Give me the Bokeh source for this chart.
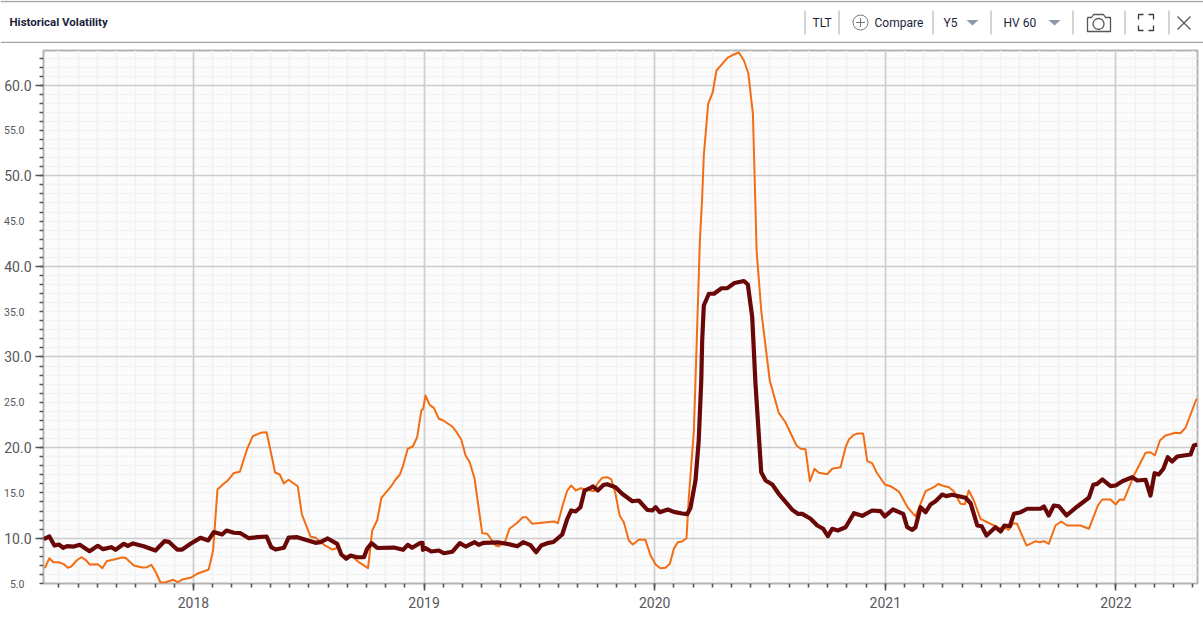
from bokeh.embed import file_html
from bokeh.resources import INLINE
from bokeh.plotting import figure
from bokeh.layouts import column
from bokeh.models import FixedTicker, Grid, LinearAxis
from bokeh.core.properties import value

TITLE = "Historical Volatility"
YEAR_TICKS = [2018, 2019, 2020, 2021, 2022]
Y_MAJOR = [10, 20, 30, 40, 50, 60]
Y_MID = [5, 15, 25, 35, 45, 55]

orange_x = [2017.355,2017.375,2017.392,2017.415,2017.435,2017.455,2017.470,2017.493,2017.513,2017.532,2017.550,2017.585,2017.605,2017.623,2017.691,2017.705,2017.741,2017.778,2017.799,2017.817,2017.835,2017.857,2017.879,2017.912,2017.932,2017.955,2017.987,
 2018.016,2018.066,2018.085,2018.104,2018.131,2018.149,2018.175,2018.201,2018.233,2018.257,2018.291,2018.317,2018.354,2018.374,2018.392,2018.412,2018.452,2018.470,2018.507,2018.529,2018.565,2018.602,2018.626,2018.645,2018.688,2018.717,2018.757,2018.775,2018.797,2018.815,2018.854,2018.876,2018.895,2018.909,2018.929,2018.951,2018.970,2018.988,2018.996,
 2019.006,2019.024,2019.042,2019.064,2019.083,2019.122,2019.141,2019.161,2019.180,2019.198,2019.219,2019.252,2019.274,2019.310,2019.324,2019.350,2019.370,2019.404,2019.428,2019.443,2019.469,2019.563,2019.580,2019.603,2019.621,2019.638,2019.658,2019.678,2019.736,2019.751,2019.772,2019.794,2019.812,2019.830,2019.848,2019.866,2019.888,2019.905,2019.931,2019.960,2019.982,
 2020.004,2020.025,2020.047,2020.066,2020.083,2020.100,2020.119,2020.138,2020.148,2020.170,2020.177,2020.196,2020.206,2020.213,2020.232,2020.252,2020.268,2020.293,2020.315,2020.338,2020.365,2020.387,2020.406,2020.426,2020.442,2020.462,2020.499,2020.538,2020.567,2020.615,2020.633,2020.654,2020.673,2020.693,2020.712,2020.748,2020.770,2020.806,2020.828,2020.842,2020.864,2020.881,2020.904,2020.922,2020.943,2020.962,2020.998,
 2021.023,2021.059,2021.098,2021.131,2021.175,2021.211,2021.230,2021.247,2021.276,2021.297,2021.326,2021.345,2021.362,2021.384,2021.413,2021.471,2021.500,2021.514,2021.536,2021.555,2021.572,2021.587,2021.613,2021.652,2021.670,2021.688,2021.709,2021.738,2021.763,2021.789,2021.847,2021.883,2021.922,2021.941,2021.977,2021.999,
 2022.017,2022.035,2022.078,2022.129,2022.150,2022.169,2022.191,2022.215,2022.259,2022.280,2022.302,2022.350]
orange_y = [6.69,7.79,7.35,7.35,7.17,6.73,6.88,7.54,7.90,7.62,7.10,7.13,6.69,7.46,7.87,7.84,6.99,6.77,6.80,7.06,6.32,5.11,5.14,5.41,5.14,5.47,5.63,
 6.07,6.55,8.64,15.38,16.00,16.37,17.20,17.33,19.87,21.26,21.63,21.70,17.25,17.03,16.04,16.45,15.74,12.62,10.19,10.04,9.30,8.75,8.94,8.09,8.01,7.35,6.69,10.85,12.01,14.46,15.63,16.45,17.03,18.02,19.87,20.12,21.15,24.09,24.28,
 25.75,24.72,24.39,23.18,22.99,22.33,21.70,20.89,19.13,18.39,16.56,10.55,10.49,9.19,9.12,9.53,11.04,11.70,12.32,12.32,11.59,11.84,11.66,13.80,15.26,15.82,15.26,15.52,15.19,16.00,16.67,16.73,16.48,14.90,12.51,11.77,9.75,9.30,9.82,9.82,8.09,
 7.10,6.69,6.73,7.17,8.83,9.56,9.64,10.00,14.49,21.89,27.41,42.86,47.64,52.24,57.95,59.23,61.62,62.36,63.02,63.33,63.61,62.73,61.32,56.84,41.75,35.13,27.41,23.84,22.80,20.23,19.87,19.82,16.29,17.66,17.22,17.06,17.66,17.84,20.04,20.89,21.41,21.56,21.56,18.50,18.28,17.28,15.93,
 15.74,15.15,13.36,12.40,15.19,15.63,16.00,15.82,15.63,15.19,13.80,13.75,15.26,14.16,12.14,11.40,11.04,11.21,10.93,11.66,11.59,10.66,9.19,9.67,9.56,9.67,9.38,11.40,11.84,11.40,11.40,11.04,13.61,14.27,14.27,13.72,
 14.27,14.24,16.92,19.43,19.49,19.13,20.78,21.34,21.63,21.59,22.19,25.39]

dark_x = [2017.351,2017.375,2017.397,2017.416,2017.435,2017.452,2017.481,2017.507,2017.549,2017.585,2017.608,2017.643,2017.662,2017.698,2017.715,2017.738,2017.784,2017.835,2017.874,2017.893,2017.929,2017.951,2017.987,
 2018.030,2018.064,2018.088,2018.124,2018.143,2018.175,2018.204,2018.240,2018.276,2018.317,2018.337,2018.356,2018.392,2018.413,2018.450,2018.493,2018.529,2018.551,2018.582,2018.623,2018.641,2018.662,2018.681,2018.710,2018.739,2018.753,2018.772,2018.797,2018.869,2018.909,2018.929,2018.948,2018.981,2018.993,2018.995,
 2019.006,2019.031,2019.064,2019.086,2019.122,2019.155,2019.180,2019.219,2019.237,2019.259,2019.324,2019.360,2019.404,2019.430,2019.461,2019.486,2019.508,2019.534,2019.561,2019.599,2019.621,2019.638,2019.657,2019.678,2019.696,2019.722,2019.733,2019.753,2019.779,2019.794,2019.830,2019.859,2019.903,2019.931,2019.968,2019.989,
 2020.004,2020.022,2020.057,2020.083,2020.119,2020.141,2020.155,2020.177,2020.191,2020.202,2020.206,2020.213,2020.235,2020.257,2020.290,2020.315,2020.346,2020.387,2020.404,2020.423,2020.437,2020.462,2020.481,2020.510,2020.538,2020.597,2020.621,2020.640,2020.676,2020.705,2020.731,2020.751,2020.770,2020.794,2020.828,2020.864,2020.900,2020.943,2020.979,2020.998,
 2021.033,2021.078,2021.095,2021.117,2021.131,2021.153,2021.175,2021.196,2021.218,2021.247,2021.264,2021.290,2021.348,2021.370,2021.399,2021.418,2021.439,2021.478,2021.500,2021.517,2021.540,2021.558,2021.587,2021.616,2021.673,2021.688,2021.709,2021.731,2021.753,2021.786,2021.833,2021.883,2021.902,2021.919,2021.941,2021.977,2021.999,
 2022.028,2022.071,2022.093,2022.129,2022.150,2022.168,2022.186,2022.206,2022.225,2022.244,2022.266,2022.324,2022.338,2022.353]
dark_y = [9.89,10.19,9.19,9.30,8.94,9.12,9.08,9.27,8.57,9.16,8.79,9.01,8.72,9.38,9.16,9.42,9.12,8.64,9.67,9.60,8.75,8.75,9.38,
 10.04,9.75,10.68,10.41,10.85,10.60,10.55,10.00,10.11,10.19,9.01,8.75,8.94,10.08,10.11,9.78,9.49,9.56,9.97,9.38,8.20,7.73,8.09,7.90,7.90,8.83,9.45,8.92,8.97,8.72,9.27,8.94,9.45,9.49,8.72,
 8.90,8.53,8.64,8.34,8.50,9.45,9.08,9.56,9.27,9.49,9.53,9.38,9.12,9.56,9.23,8.45,9.19,9.45,9.58,10.41,12.14,13.06,12.95,13.42,15.26,15.56,15.71,15.26,15.89,15.96,15.63,14.90,14.08,14.16,13.13,13.06,
 13.42,12.87,13.17,12.91,12.73,12.65,13.33,16.37,20.78,27.41,31.82,35.68,36.98,36.98,37.59,37.60,38.17,38.39,38.00,34.39,27.08,17.28,16.37,15.93,14.90,13.13,12.69,12.69,12.14,11.40,11.04,10.22,11.04,10.85,11.21,12.76,12.47,13.06,12.98,12.40,
 13.17,12.69,11.21,10.93,11.21,13.42,12.87,13.72,14.08,14.82,14.64,14.79,14.46,13.86,11.40,11.32,10.30,11.21,10.74,11.40,11.32,12.69,12.87,13.25,13.25,13.50,12.51,13.61,13.53,12.51,13.50,14.46,15.89,16.00,16.48,15.74,15.82,
 16.29,16.73,16.37,16.45,14.71,17.17,17.03,17.66,18.94,18.47,19.02,19.24,20.23,20.34]

FONT = value("Roboto")
INK = "#1b1f3b"
SEP = "#a9a9ad"
TRI = "#8d98ae"
ICON = "#55555c"

# Header bar: drawn on a 1:1 pixel canvas
h = figure(width=1203, height=43, x_range=(0, 1203), y_range=(43, 0), output_backend="svg",
           toolbar_location=None, min_border=0, outline_line_color=None, background_fill_color="white",
           frame_align=False)
h.axis.visible = False
h.grid.visible = False
h.segment([0, 0], [1, 42], [1203, 1203], [1, 42], line_color="#a6a6aa", line_width=1.5)
h.segment([804.5, 838.5, 932.5, 990.5, 1072.5, 1124.5, 1168.5], [10]*7,
          [804.5, 838.5, 932.5, 990.5, 1072.5, 1124.5, 1168.5], [34]*7, line_color=SEP, line_width=1)
h.text([9], [21.5], [TITLE], text_font=FONT, text_font_size="11.5px", text_font_style="bold", text_color=INK,
       text_align="left", text_baseline="middle")
h.text([812, 874, 943, 1003], [22, 22, 22, 22], ["TLT", "Compare", "Y5", "HV 60"], text_font=FONT,
       text_font_size="12px", text_color=INK, text_align="left", text_baseline="middle")
h.scatter([860], [22], size=15, marker="circle", fill_color=None, line_color="#77777c", line_width=1)
h.segment([855.5, 860], [22, 17.5], [864.5, 860], [22, 26.5], line_color="#77777c", line_width=1)
h.patches([[966, 978, 972], [1048, 1060, 1054]], [[19.5, 19.5, 25], [19.5, 19.5, 25]], fill_color=TRI, line_color=None)
h.line([1087, 1091, 1093, 1103, 1105, 1110, 1110, 1087, 1087], [17, 17, 14, 14, 17, 17, 31, 31, 17],
       line_color=ICON, line_width=1.3, line_join="round")
h.scatter([1098], [23.5], size=11, marker="circle", fill_color=None, line_color=ICON, line_width=1.3)
h.multi_line([[1138, 1138, 1143], [1148, 1153, 1153], [1138, 1138, 1143], [1148, 1153, 1153]],
             [[19, 14, 14], [14, 14, 19], [25, 30, 30], [30, 30, 25]], line_color="#3a3a40", line_width=1.3)
h.segment([1177, 1177], [16, 29], [1190, 1190], [29, 16], line_color="#55555c", line_width=1.2)

# Chart
p = figure(width=1203, height=571, x_range=(2017.3495, 2022.354), y_range=(5.0, 63.83), output_backend="svg",
           toolbar_location=None, min_border_left=43, min_border_right=6, min_border_top=7, min_border_bottom=31,
           background_fill_color="#fcfcfc", border_fill_color="white",
           outline_line_color="#b3b3b3", outline_line_width=2, frame_align=False)

minor_x = [2017 + m / 12 for m in range(5, 65)]
xt = FixedTicker(ticks=YEAR_TICKS, minor_ticks=minor_x)
yt = FixedTicker(ticks=Y_MAJOR, minor_ticks=list(range(5, 64)))
p.xaxis.ticker = xt
p.yaxis.ticker = yt
p.xaxis.major_label_overrides = {y: str(y) for y in YEAR_TICKS}
p.yaxis.major_label_overrides = {v: f"{v:.1f}" for v in Y_MAJOR}

# Minor grids go underneath both major grids so the major lines stay unbroken
grid_layers = []
for dim, tk in ((0, xt), (1, yt)):
    grid_layers.append(Grid(dimension=dim, ticker=tk, grid_line_color=None,
                            minor_grid_line_color="#f2f2f2", minor_grid_line_width=1.6))
for dim, tk in ((0, xt), (1, yt)):
    grid_layers.append(Grid(dimension=dim, ticker=tk, grid_line_color="#cdcdcd", grid_line_width=1.6))
p.center = grid_layers

for ax in (p.xaxis[0], p.yaxis[0]):
    ax.axis_line_color = None
    ax.major_tick_line_color = "#55555a"
    ax.minor_tick_line_color = "#55555a"
    ax.major_tick_line_width = 1.6
    ax.minor_tick_line_width = 1.6
    ax.major_tick_in = 0
    ax.minor_tick_in = 0
    ax.major_label_text_font = "Roboto"
    ax.major_label_text_color = "#57575c"
p.xaxis.major_tick_out = 7
p.xaxis.minor_tick_out = 4
p.yaxis.major_tick_out = 8
p.yaxis.minor_tick_out = 4
p.xaxis.major_label_text_font_size = "14px"
p.yaxis.major_label_text_font_size = "14px"
p.xaxis.major_label_standoff = 6
p.yaxis.major_label_standoff = 4

# Second axis carries the smaller mid-decade labels; a negative standoff lays them in the big labels' column
mid_axis = LinearAxis(ticker=FixedTicker(ticks=Y_MID, minor_ticks=[]), axis_line_color=None,
                      major_tick_line_color=None, minor_tick_line_color=None,
                      major_tick_in=0, major_tick_out=0, minor_tick_in=0, minor_tick_out=0,
                      major_label_standoff=-23, major_label_text_font="Roboto",
                      major_label_text_font_size="10.5px", major_label_text_color="#57575c",
                      major_label_overrides={v: f"{v:.1f}" for v in Y_MID})
p.add_layout(mid_axis, "left")

p.line(orange_x, orange_y, line_color="#f26d14", line_width=2, line_join="round")
p.line(dark_x, dark_y, line_color="#6a0808", line_width=4.2, line_join="round")

# Page foot strip
f = figure(width=1203, height=3, x_range=(0, 1), y_range=(0, 1), output_backend="svg", toolbar_location=None,
           min_border=0, outline_line_color=None, background_fill_color="#f3f5f9", border_fill_color="#f3f5f9",
           frame_align=False)
f.axis.visible = False
f.grid.visible = False
f.segment([0], [1], [1], [1], line_color="#a6a6aa", line_width=3)

page = column(h, p, f, spacing=0)
open("out.html", "w").write(file_html(page, INLINE))
